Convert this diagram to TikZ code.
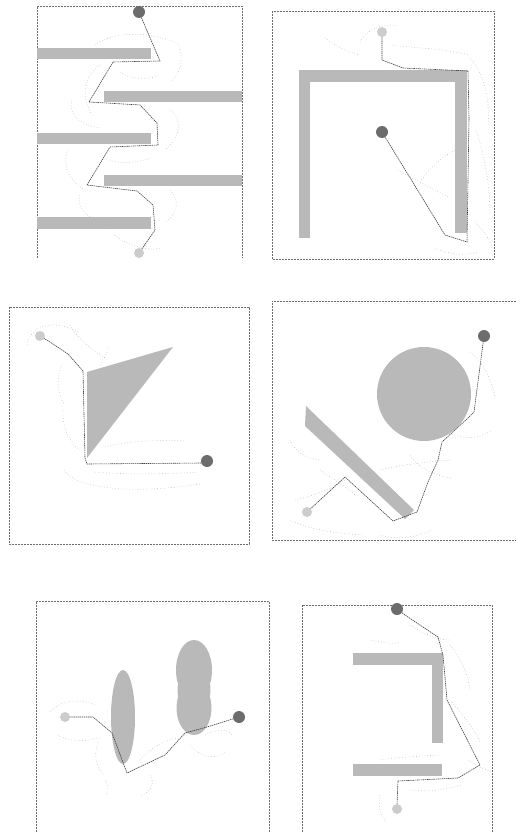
\documentclass[tikz,border=0pt]{standalone}
\usepackage{tikz}
\usetikzlibrary{calc}
\tikzset{
  % scene styles
  frame/.style={gray!85!black, line width=0.6pt, dash pattern=on 2pt off 1pt},
  wall/.style={fill=gray!55},
  startpt/.style={fill=gray!40},
  goalpt/.style={fill=gray!85!black},
  route/.style={black!75, line width=0.6pt, dash pattern=on 1.4pt off 0.7pt},
  branch/.style={gray!60, line width=0.5pt, dash pattern=on 0.6pt off 2.2pt},
}

\begin{document}
\begin{tikzpicture}[x=1pt, y=-1pt]
  \useasboundingbox (0,0) rectangle (516,832);

  % Panel 1: five bars
  \draw[frame] (37,258) -- (37,6) -- (242,6) -- (242,258);
  \foreach \ya/\yb in {48/59, 133/144, 217/229} {
    \fill[wall] (37,\ya) rectangle (151,\yb);
  }
  \foreach \ya/\yb in {91/102, 175/186} {
    \fill[wall] (104,\ya) rectangle (242,\yb);
  }
  \coordinate (g1) at (139,12);
  \coordinate (s1) at (139,253);
  \draw[branch] (95,45) .. controls (110,32) and (150,30) .. (178,44);
  \draw[branch] (178,44) .. controls (185,60) and (180,75) .. (170,82);
  \draw[branch] (100,65) .. controls (85,75) and (80,95) .. (92,115);
  \draw[branch] (72,100) .. controls (68,115) and (80,125) .. (100,128);
  \draw[branch] (170,110) .. controls (185,120) and (178,140) .. (165,150);
  \draw[branch] (68,150) .. controls (60,170) and (75,185) .. (85,190);
  \draw[branch] (170,190) .. controls (180,200) and (178,215) .. (165,222);
  \draw[branch] (80,195) .. controls (75,210) and (95,225) .. (115,225);
  \draw[branch] (115,235) .. controls (125,245) and (150,252) .. (160,248);
  \draw[branch] (120,72) .. controls (130,80) and (150,80) .. (160,75);
  \draw[branch] (110,160) .. controls (120,165) and (140,162) .. (150,158);
  \draw[route] (g1) -- (160,61) -- (113,62) -- (89,102) -- (140,105) -- (157,123)
    -- (158,145) -- (110,147) -- (87,185) -- (137,191) -- (153,205) -- (155,230) -- (s1);
  \fill[goalpt] (g1) circle (6);
  \fill[startpt] (s1) circle (5);

  % Panel 2: L shaped wall
  \draw[frame] (272,11) rectangle (494,259);
  \fill[wall] (299,70) rectangle (467,82);
  \fill[wall] (299,70) rectangle (310,238);
  \fill[wall] (455,70) rectangle (467,233);
  \coordinate (s2) at (382,32);
  \coordinate (g2) at (382,132);
  \draw[branch] (360,42) .. controls (365,30) and (385,22) .. (398,26);
  \draw[branch] (392,45) .. controls (410,48) and (440,48) .. (470,55);
  \draw[branch] (470,58) .. controls (485,75) and (490,100) .. (488,125);
  \draw[branch] (476,130) .. controls (486,160) and (490,190) .. (490,215);
  \draw[branch] (455,150) .. controls (440,158) and (428,170) .. (420,182);
  \draw[branch] (398,170) .. controls (415,180) and (435,190) .. (450,198);
  \draw[branch] (475,222) .. controls (485,232) and (490,240) .. (492,248);
  \draw[branch] (435,248) .. controls (450,255) and (465,256) .. (478,252);
  \draw[branch] (325,38) .. controls (335,45) and (345,52) .. (360,55);
  \draw[route] (s2) -- (382,60) -- (403,68) -- (468,71) -- (469,118)
    -- (467,242) -- (445,235) -- (g2);
  \fill[startpt] (s2) circle (5);
  \fill[goalpt] (g2) circle (6);

  % Panel 3: triangle
  \draw[frame] (9,307) rectangle (249,544);
  \fill[wall] (87,372) -- (173,347) -- (87,458) -- cycle;
  \coordinate (s3) at (40,336);
  \coordinate (g3) at (207,461);
  \draw[branch] (27,345) .. controls (30,325) and (55,318) .. (80,333);
  \draw[branch] (70,325) .. controls (78,340) and (95,352) .. (105,358);
  \draw[branch] (62,365) .. controls (55,380) and (58,395) .. (65,405);
  \draw[branch] (63,410) .. controls (62,430) and (72,445) .. (80,450);
  \draw[branch] (64,470) .. controls (75,488) and (130,495) .. (200,484);
  \draw[branch] (105,447) .. controls (130,440) and (165,440) .. (185,441);
  \draw[branch] (95,472) .. controls (130,475) and (170,474) .. (198,472);
  \draw[branch] (100,365) .. controls (105,355) and (110,350) .. (108,345);
  \draw[route] (s3) -- (50,342) -- (68,354) -- (83,371) -- (85,458) -- (87,464) -- (202,463) -- (g3);
  \fill[startpt] (s3) circle (5);
  \fill[goalpt] (g3) circle (6);

  % Panel 4: disc and tilted bar
  \draw[frame] (516,301) -- (272,301) -- (272,540) -- (516,540);
  \fill[wall] (424,394) circle (47);
  \fill[wall] (306,406) -- (414,510) -- (405,519) -- (305,426) -- cycle;
  \coordinate (s4) at (307,512);
  \coordinate (g4) at (484,336);
  \draw[branch] (290,440) .. controls (295,452) and (305,458) .. (320,460);
  \draw[branch] (295,500) .. controls (310,497) and (330,490) .. (345,480);
  \draw[branch] (290,520) .. controls (310,530) and (335,533) .. (362,535);
  \draw[branch] (380,470) .. controls (400,465) and (425,462) .. (450,460);
  \draw[branch] (445,430) .. controls (460,440) and (478,440) .. (492,430);
  \draw[branch] (410,455) .. controls (418,468) and (435,476) .. (452,478);
  \draw[branch] (470,352) .. controls (485,365) and (492,380) .. (495,398);
  \draw[branch] (380,535) .. controls (395,540) and (415,538) .. (432,530);
  \draw[branch] (320,470) .. controls (330,478) and (345,485) .. (355,495);
  \draw[route] (s4) -- (345,477) -- (393,521) -- (417,512) -- (428,482) -- (438,460)
    -- (442,442) -- (468,418) -- (474,412) -- (g4);
  \fill[startpt] (s4) circle (5);
  \fill[goalpt] (g4) circle (6);

  % Panel 5: two blobs
  \draw[frame] (36,832) -- (36,601) -- (269,601) -- (269,832);
  \fill[wall] (123,717) ellipse (12 and 47);
  \fill[wall] (194,670) ellipse (18 and 30);
  \fill[wall] (194,690) ellipse (16.5 and 25);
  \fill[wall] (194,708) ellipse (17.5 and 27);
  \coordinate (s5) at (65,717);
  \coordinate (g5) at (239,717);
  \draw[branch] (50,712) .. controls (60,700) and (80,698) .. (95,705);
  \draw[branch] (58,735) .. controls (70,742) and (85,742) .. (97,738);
  \draw[branch] (100,737) .. controls (92,755) and (96,768) .. (105,776);
  \draw[branch] (140,760) .. controls (150,748) and (165,740) .. (178,738);
  \draw[branch] (190,745) .. controls (200,758) and (215,760) .. (226,752);
  \draw[branch] (150,775) .. controls (156,785) and (150,792) .. (140,796);
  \draw[branch] (105,780) .. controls (108,785) and (110,790) .. (106,795);
  \draw[branch] (205,735) .. controls (215,730) and (228,728) .. (232,735);
  \draw[route] (s5) -- (93,717) -- (112,733) -- (127,773) -- (165,755) -- (185,733) -- (207,727) -- (g5);
  \fill[startpt] (s5) circle (5);
  \fill[goalpt] (g5) circle (6);

  % Panel 6: two arms
  \draw[frame] (302,832) -- (302,605) -- (492,605) -- (492,832);
  \fill[wall] (353,653) rectangle (443,665);
  \fill[wall] (432,653) rectangle (443,743);
  \fill[wall] (353,764) rectangle (442,776);
  \coordinate (g6) at (397,609);
  \coordinate (s6) at (397,809);
  \draw[branch] (410,625) .. controls (425,635) and (440,640) .. (450,640);
  \draw[branch] (450,645) .. controls (462,660) and (468,675) .. (470,690);
  \draw[branch] (452,702) .. controls (465,718) and (475,730) .. (480,742);
  \draw[branch] (468,760) .. controls (475,765) and (485,770) .. (492,772);
  \draw[branch] (380,760) .. controls (400,757) and (420,756) .. (440,755);
  \draw[branch] (410,790) .. controls (425,792) and (445,790) .. (462,785);
  \draw[branch] (380,795) .. controls (378,805) and (380,815) .. (386,822);
  \draw[branch] (370,640) .. controls (380,642) and (392,645) .. (400,642);
  \draw[route] (g6) -- (405,615) -- (438,637) -- (443,655) -- (447,700)
    -- (480,765) -- (458,778) -- (398,781) -- (397,805) -- (s6);
  \fill[goalpt] (g6) circle (6);
  \fill[startpt] (s6) circle (5);
\end{tikzpicture}
\end{document}
